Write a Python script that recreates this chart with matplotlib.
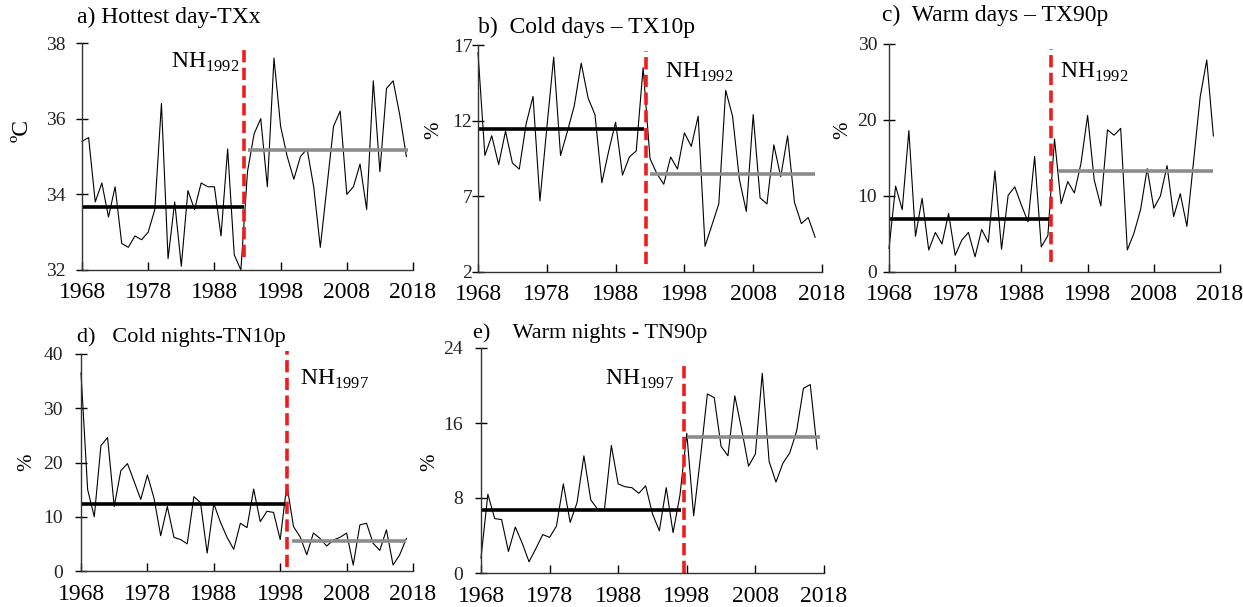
import matplotlib
matplotlib.use("Agg")
import matplotlib.pyplot as plt
import numpy as np

plt.rcParams['font.family'] = ['Liberation Serif', 'DejaVu Serif']
plt.rcParams['mathtext.fontset'] = 'custom'
plt.rcParams['mathtext.rm'] = 'Liberation Serif'

years = list(range(1968, 2018))

# a) Hottest day - TXx (degC)
txx = [35.4, 35.5, 33.8, 34.3, 33.4, 34.2, 32.7, 32.6, 32.9, 32.8,
       33.0, 33.6, 36.4, 32.3, 33.8, 32.1, 34.1, 33.6, 34.3, 34.2,
       34.2, 32.9, 35.2, 32.4, 32.0, 34.6, 35.6, 36.0, 34.2, 37.6,
       35.8, 35.0, 34.4, 35.0, 35.2, 34.2, 32.6, 34.2, 35.8, 36.2,
       34.0, 34.2, 34.8, 33.6, 37.0, 34.6, 36.8, 37.0, 36.1, 35.0]
# b) Cold days - TX10p (%)
tx10p = [16.5, 9.7, 11.0, 9.1, 11.3, 9.2, 8.8, 11.8, 13.6, 6.7,
         11.5, 16.2, 9.7, 11.3, 13.0, 15.8, 13.5, 12.4, 7.9, 10.0,
         11.9, 8.4, 9.6, 10.0, 15.5, 9.5, 8.5, 7.8, 9.6, 8.8,
         11.2, 10.3, 12.3, 3.7, 5.1, 6.5, 14.0, 12.3, 8.1, 6.0,
         12.4, 6.9, 6.5, 10.4, 8.3, 11.0, 6.6, 5.2, 5.6, 4.3]
# c) Warm days - TX90p (%)
tx90p = [3.1, 11.3, 8.2, 18.6, 4.7, 9.7, 2.9, 5.2, 3.7, 7.7,
         2.2, 4.2, 5.2, 2.0, 5.6, 3.9, 13.3, 3.0, 10.1, 11.2,
         8.8, 6.6, 15.2, 3.3, 4.8, 17.5, 9.0, 11.9, 10.4, 14.3,
         20.6, 12.1, 8.7, 18.7, 18.0, 18.9, 2.9, 5.1, 8.2, 13.6,
         8.4, 10.0, 14.0, 7.3, 10.3, 6.0, 14.5, 23.0, 27.9, 17.9]
# d) Cold nights - TN10p (%)
tn10p = [36.5, 15.0, 10.0, 23.1, 24.6, 11.9, 18.5, 19.8, 16.5, 13.2,
         17.7, 13.4, 6.5, 11.9, 6.2, 5.8, 5.0, 13.7, 12.6, 3.3,
         12.4, 9.0, 6.2, 4.0, 8.8, 8.0, 15.1, 9.1, 11.0, 10.8,
         5.8, 15.9, 8.2, 6.3, 3.0, 7.0, 6.0, 4.6, 5.7, 6.2,
         7.0, 1.1, 8.5, 8.8, 5.1, 3.8, 7.6, 1.1, 3.0, 6.0]
# e) Warm nights - TN90p (%)
tn90p = [1.6, 8.4, 5.8, 5.7, 2.3, 4.9, 3.2, 1.2, 2.6, 4.1,
         3.8, 5.0, 9.5, 5.4, 7.5, 12.5, 7.8, 6.8, 6.8, 13.6,
         9.5, 9.2, 9.1, 8.5, 9.3, 6.3, 4.5, 9.1, 4.3, 8.3,
         14.9, 6.1, 12.4, 19.1, 18.7, 13.5, 12.5, 18.9, 15.3, 11.4,
         12.7, 21.3, 11.9, 9.7, 11.7, 12.8, 15.1, 19.7, 20.1, 13.2]

# means before / after the change point
means_before = [33.66, 11.42, 6.95, 12.4, 6.7]
means_after = [35.18, 8.5, 13.3, 5.5, 14.5]
change_x = [1992.4, 1992.4, 1992.4, 1999.0, 1997.6]
nh_labels = ['NH$_{1992}$', 'NH$_{1992}$', 'NH$_{1992}$', 'NH$_{1997}$', 'NH$_{1997}$']
titles = ['a) Hottest day-TXx', 'b)  Cold days \u2013 TX10p', 'c)  Warm days \u2013 TX90p',
          'd)   Cold nights-TN10p', 'e)    Warm nights - TN90p']
ylabels = ['ºC', '%', '%', '%', '%']
yticks = [[32, 34, 36, 38], [2, 7, 12, 17], [0, 10, 20, 30], [0, 10, 20, 30, 40], [0, 8, 16, 24]]
series = [txx, tx10p, tx90p, tn10p, tn90p]

W, H = 1243, 607
# axes boxes in pixels: left, right, top, bottom
boxes = [(82, 413, 43, 270), (478, 822, 45, 272), (889, 1220, 44, 272),
         (81, 413, 354, 571), (481, 824, 348, 573)]
before_x = [(1968, 1992.4), (1968, 1992.2), (1968, 1992.4), (1968, 1999.0), (1968, 1997.1)]
after_x = [(1993.0, 2017.2), (1993.0, 2017.0), (1993.5, 2017.0), (1999.8, 2017.0), (1998.0, 2017.4)]
red_y = [(32.35, 37.9), (2.55, 16.6), (1.3, 29.3), (0.8, 40.5), (0.0, 22.5)]
nh_pos = [(1991.8, 37.5, 'right'), (1995.2, 15.2, 'left'), (1993.8, 26.3, 'left'),
          (2001.0, 35.3, 'left'), (1996.2, 20.6, 'right')]
title_px = [(77, 17), (478, 27), (882, 15), (77, 337), (473, 333)]
title_fs = [17, 17, 17, 16, 16]
ylabel_px = [(22, 130), (434, 130), (843, 130), (27, 462), (430, 462)]
ytick_pad = [8, 0, 4.5, 9, 9]

fig = plt.figure(figsize=(W / 100, H / 100), dpi=100)

for i in range(5):
    l, r, t, b = boxes[i]
    ax = fig.add_axes([l / W, 1 - b / H, (r - l) / W, (b - t) / H])
    ax.plot(years, series[i], color='black', lw=0.8)
    ax.plot(before_x[i], [means_before[i]] * 2, color='black', lw=2.6, solid_capstyle='butt')
    ax.plot(after_x[i], [means_after[i]] * 2, color='#8c8c8c', lw=2.6, solid_capstyle='butt')
    ax.plot([change_x[i]] * 2, red_y[i], color='#ee1c1c', lw=2.6, ls=(0, (3.4, 1.5)))
    ax.set_xlim(1968, 2018)
    ax.set_ylim(yticks[i][0], yticks[i][-1])
    ax.set_xticks(range(1968, 2019, 10))
    ax.set_yticks(yticks[i])
    ax.tick_params(axis='x', direction='in', length=6, labelsize=17, pad=9, width=1)
    ax.tick_params(axis='y', direction='inout', length=8, labelsize=14, pad=ytick_pad[i],
                   width=1, labelcolor='#222222')
    for s in ['top', 'right']:
        ax.spines[s].set_visible(False)
    for s in ['left', 'bottom']:
        ax.spines[s].set_linewidth(1)
        ax.spines[s].set_color('#333333')
    for ln in ax.lines:
        ln.set_clip_on(False)
    nx, ny, ha = nh_pos[i]
    ax.text(nx, ny, nh_labels[i], ha=ha, va='center', fontsize=17)
    tx, ty = title_px[i]
    fig.text(tx / W, 1 - ty / H, titles[i], ha='left', va='center', fontsize=title_fs[i])
    yx, yy = ylabel_px[i]
    fig.text(yx / W, 1 - yy / H, ylabels[i], ha='center', va='center', rotation=90,
             fontsize=17 if i == 0 else 15)

fig.savefig('out.png', dpi=100, facecolor='white')
